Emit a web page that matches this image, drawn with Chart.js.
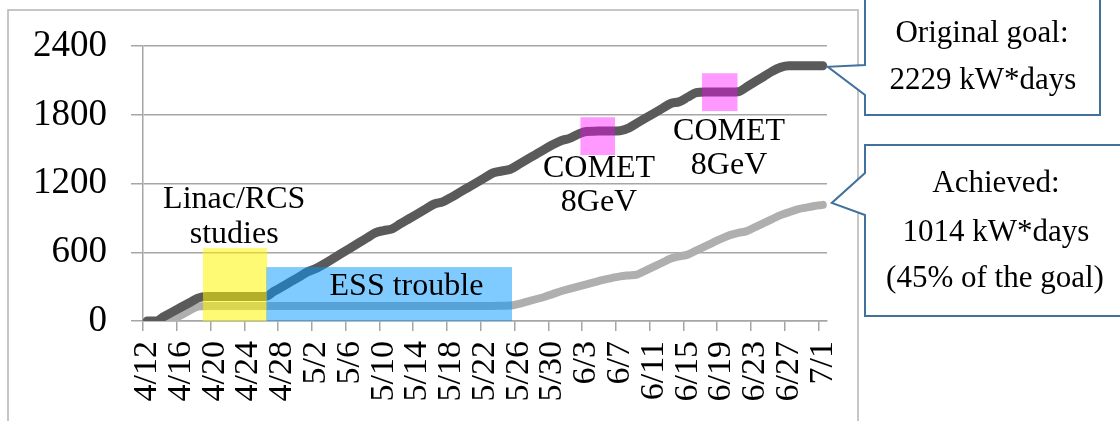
<!DOCTYPE html>
<html><head><meta charset="utf-8">
<script src="https://cdn.jsdelivr.net/npm/chart.js@4.4.0/dist/chart.umd.min.js"></script>
<style>html,body{margin:0;padding:0;background:#fff;overflow:hidden}#wrap{width:1120px;height:421px;position:relative}</style>
</head><body><div id="wrap"><canvas id="c" width="1120" height="421"></canvas></div>
<script>
const categories = ["4/12","4/13","4/14","4/15","4/16","4/17","4/18","4/19","4/20","4/21","4/22","4/23","4/24","4/25","4/26","4/27","4/28","4/29","4/30",
"5/1","5/2","5/3","5/4","5/5","5/6","5/7","5/8","5/9","5/10","5/11","5/12","5/13","5/14","5/15","5/16","5/17","5/18","5/19","5/20","5/21","5/22","5/23","5/24","5/25","5/26","5/27","5/28","5/29","5/30","5/31",
"6/1","6/2","6/3","6/4","6/5","6/6","6/7","6/8","6/9","6/10","6/11","6/12","6/13","6/14","6/15","6/16","6/17","6/18","6/19","6/20","6/21","6/22","6/23","6/24","6/25","6/26","6/27","6/28","6/29","6/30","7/1"];

const tickLabels = ["4/12","4/16","4/20","4/24","4/28","5/2","5/6","5/10","5/14","5/18","5/22","5/26","5/30","6/3","6/7","6/11","6/15","6/19","6/23","6/27","7/1"];

const yTicks = [0, 600, 1200, 1800, 2400];

const goalValues = [0,0,40,80,120,160,200,215,215,215,215,215,215,215,215,258,300,343,386,430,460,500,545,590,635,680,725,770,790,805,
850,893,936,979,1022,1040,1080,1123,1166,1209,1252,1295,1310,1325,1368,1411,1454,1497,1540,1575,1595,1630,1655,1658,1660,1660,1662,
1685,1728,1771,1814,1857,1900,1915,1955,1995,2000,2000,2000,2000,2002,2045,2090,2135,2180,2215,2229,2229,2229,2229,2229];

const achievedValues = [0,0,0,10,50,90,125,130,130,130,130,130,130,130,130,130,130,130,130,130,130,130,130,130,130,130,130,130,130,130,
130,130,130,130,130,130,130,130,130,130,130,132,134,135,150,170,190,210,235,260,280,300,320,340,360,375,390,398,405,440,475,510,545,565,
580,615,650,685,720,750,770,785,820,855,890,925,950,975,990,1005,1014];

// shaded periods: [start index, end index, low value, high value]
const periodBoxes = [
  {x0: 6.6, x1: 14.2, y0: 0, y1: 637, color: 'rgba(255,246,0,0.55)'},
  {x0: 14.1, x1: 43.2, y0: 0, y1: 471, color: 'rgba(0,152,255,0.5)'},
  {x0: 51.3, x1: 55.4, y0: 1449, y1: 1780, color: 'rgba(255,0,255,0.4)'},
  {x0: 65.7, x1: 69.9, y0: 1833, y1: 2164, color: 'rgba(255,0,255,0.4)'}
];
const periodTexts = [
  {x: 10.3, y: 1056, text: 'Linac/RCS'},
  {x: 10.3, y: 759, text: 'studies'},
  {x: 30.7, y: 297, text: 'ESS trouble'},
  {x: 53.5, y: 1335, text: 'COMET'},
  {x: 53.5, y: 1030, text: '8GeV'},
  {x: 68.9, y: 1658, text: 'COMET'},
  {x: 68.9, y: 1353, text: '8GeV'}
];

const SERIF = "'Liberation Serif', 'Times New Roman', serif";
const calloutColor = '#41719c';

function pathCallout(ctx, left, top, right, bottom, notchTop, notchBottom, tipX, tipY) {
  ctx.beginPath();
  ctx.moveTo(left, top);
  ctx.lineTo(right, top);
  ctx.lineTo(right, bottom);
  ctx.lineTo(left, bottom);
  ctx.lineTo(left, notchBottom);
  ctx.lineTo(tipX, tipY);
  ctx.lineTo(left, notchTop);
  ctx.closePath();
}

const overlay = {
  id: 'overlay',
  beforeDraw(chart) {
    const ctx = chart.ctx;
    ctx.save();
    ctx.fillStyle = '#fff';
    ctx.fillRect(0, 0, chart.width, chart.height);
    ctx.strokeStyle = '#b4b4b4';
    ctx.lineWidth = 1.5;
    ctx.strokeRect(8, 10, 850, 430);
    ctx.restore();
  },
  afterDatasetsDraw(chart) {
    const ctx = chart.ctx;
    const xs = chart.scales.x, ys = chart.scales.y;
    const step = xs.getPixelForValue(1) - xs.getPixelForValue(0);
    const px = v => xs.getPixelForValue(0) + v * step;
    ctx.save();
    periodBoxes.forEach(b => {
      ctx.fillStyle = b.color;
      const l = px(b.x0), r = px(b.x1), t = ys.getPixelForValue(b.y1), bt = ys.getPixelForValue(b.y0);
      ctx.fillRect(l, t, r - l, bt - t);
    });
    ctx.fillStyle = '#000';
    ctx.font = '32px ' + SERIF;
    ctx.textAlign = 'center';
    ctx.textBaseline = 'middle';
    periodTexts.forEach(t => ctx.fillText(t.text, px(t.x), ys.getPixelForValue(t.y)));
    ctx.restore();
  },
  afterDraw(chart) {
    const ctx = chart.ctx;
    const xs = chart.scales.x, ys = chart.scales.y;
    const last = categories.length - 1;
    const lx = xs.getPixelForValue(last);
    const gy = ys.getPixelForValue(goalValues[last]);
    const ay = ys.getPixelForValue(achievedValues[last]);
    ctx.save();
    ctx.lineWidth = 2;
    ctx.strokeStyle = calloutColor;
    ctx.fillStyle = '#fff';
    pathCallout(ctx, 865, -10, 1100, 115, 65, 95, lx + 5, gy + 1);
    ctx.fill(); ctx.stroke();
    pathCallout(ctx, 865, 145, 1130, 316, 173, 215, lx + 9, ay - 2);
    ctx.fill(); ctx.stroke();
    ctx.fillStyle = '#000';
    ctx.font = '31px ' + SERIF;
    ctx.textAlign = 'center';
    ctx.textBaseline = 'middle';
    ctx.fillText('Original goal:', 982, 34);
    ctx.fillText('2229 kW*days', 983, 81);
    ctx.fillText('Achieved:', 996, 184);
    ctx.fillText('1014 kW*days', 996, 233);
    ctx.fillText('(45% of the goal)', 995, 279);
    ctx.restore();
  }
};

new Chart(document.getElementById('c'), {
  type: 'line',
  data: {
    labels: categories,
    datasets: [
      {label: 'Goal', data: goalValues, borderColor: '#5a5a5a', borderWidth: 9, pointRadius: 0,
       borderCapStyle: 'round', borderJoinStyle: 'round', cubicInterpolationMode: 'monotone', order: 1},
      {label: 'Achieved', data: achievedValues, borderColor: '#afafaf', borderWidth: 8, pointRadius: 0,
       borderCapStyle: 'round', borderJoinStyle: 'round', cubicInterpolationMode: 'monotone', order: 2}
    ]
  },
  options: {
    responsive: false,
    animation: false,
    devicePixelRatio: 1,
    layout: {padding: {top: 46, right: 293, left: 0, bottom: 0}},
    plugins: {legend: {display: false}, tooltip: {enabled: false}},
    scales: {
      x: {
        type: 'category',
        offset: true,
        grid: {offset: true, drawOnChartArea: false, drawTicks: true, tickLength: 10, lineWidth: 1.5,
               tickColor: c => (c.index % 4 === 0 ? '#a6a6a6' : 'rgba(0,0,0,0)')},
        border: {display: true, color: '#a6a6a6', width: 1.5},
        ticks: {autoSkip: false, maxRotation: 90, minRotation: 90, padding: 10, color: '#000',
                font: {family: SERIF, size: 34},
                callback: function(v, i) { const l = categories[i]; return tickLabels.includes(l) ? l : ''; }},
        afterFit: s => { s.height = 100; }
      },
      y: {
        min: 0, max: 2400,
        afterBuildTicks: s => { s.ticks = yTicks.map(v => ({value: v})); },
        grid: {color: '#a6a6a6', lineWidth: 1.5, tickLength: 12},
        border: {display: true, color: '#a6a6a6', width: 1.5},
        ticks: {padding: 24, color: '#000', font: {family: SERIF, size: 37},
                callback: v => String(v)},
        afterFit: s => { s.width = 143; }
      }
    }
  },
  plugins: [overlay]
});
</script></body></html>
